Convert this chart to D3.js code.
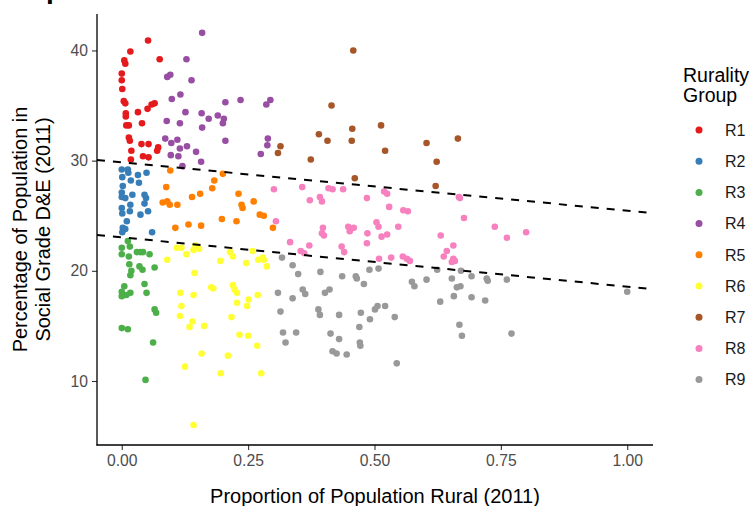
<!DOCTYPE html>
<html>
<head>
<meta charset="utf-8">
<script src="https://cdn.jsdelivr.net/npm/d3@7"></script>
<style>
  html, body { margin: 0; padding: 0; background: #ffffff; }
  svg { display: block; font-family: "Liberation Sans", Arial, sans-serif; }
</style>
</head>
<body>
<svg id="chart" width="752" height="506"></svg>
<script>
// ---- data (proportion rural, % social grade D&E) ----
const groups = ["R1","R2","R3","R4","R5","R6","R7","R8","R9"];
const colors = ["#E41A1C","#377EB8","#4DAF4A","#984EA3","#FF7F00","#FFFF33","#A65628","#F781BF","#999999"];

const r1 = [[0.052,40.9],[0.017,39.9],[0.005,39.1],[0.007,38.8],[0.075,39.2],[0.000,37.9],[0.000,37.3],[0.001,36.5],[0.004,35.4],[0.007,35.2],[0.032,34.4],[0.051,34.7],[0.059,35.1],[0.065,35.2],[0.008,34.3],[0.008,34.0],[0.009,33.2],[0.014,33.2],[0.040,33.4],[0.014,32.1],[0.016,31.8],[0.039,31.5],[0.053,31.5],[0.072,31.2],[0.070,30.9],[0.019,30.9],[0.042,30.4],[0.053,30.3],[0.018,30.1]];
const r2 = [[0.000,29.2],[0.012,29.2],[0.013,28.9],[0.049,28.9],[0.032,28.7],[0.001,28.5],[0.018,28.2],[0.034,28.0],[0.002,27.7],[0.000,27.1],[0.000,26.7],[0.021,26.9],[0.045,26.9],[0.048,26.6],[0.045,26.1],[0.017,26.0],[0.007,26.6],[0.000,25.7],[0.001,25.2],[0.016,25.4],[0.037,25.1],[0.052,25.4],[0.010,24.5],[0.002,23.9],[0.001,23.5],[0.007,23.8],[0.060,23.5]];
const r3 = [[0.012,22.7],[0.000,22.1],[0.016,22.2],[0.000,21.5],[0.014,21.3],[0.030,21.7],[0.037,21.7],[0.042,21.7],[0.055,21.5],[0.015,20.6],[0.035,20.4],[0.041,20.1],[0.065,20.3],[0.019,20.0],[0.017,19.6],[0.045,18.8],[0.049,18.0],[0.005,18.6],[0.000,18.1],[0.003,17.8],[0.009,17.8],[0.017,18.0],[0.000,17.7],[0.065,16.5],[0.068,16.2],[0.000,14.8],[0.012,14.7],[0.062,13.5],[0.047,10.1]];
const r4 = [[0.159,41.6],[0.128,39.2],[0.090,37.6],[0.096,37.8],[0.138,37.3],[0.099,35.6],[0.116,36.0],[0.205,35.3],[0.235,35.5],[0.294,35.5],[0.286,35.1],[0.126,34.4],[0.158,34.3],[0.172,33.8],[0.190,34.1],[0.202,33.8],[0.200,33.4],[0.089,33.6],[0.115,33.4],[0.159,33.0],[0.086,32.0],[0.098,31.6],[0.110,31.9],[0.205,31.8],[0.129,31.3],[0.115,31.1],[0.289,32.0],[0.288,31.4],[0.147,30.8],[0.097,30.5],[0.112,30.4],[0.275,30.6],[0.157,29.9],[0.120,29.5]];
const r5 = [[0.096,29.1],[0.200,28.8],[0.183,28.2],[0.179,27.5],[0.088,27.6],[0.155,27.0],[0.139,26.7],[0.231,27.0],[0.261,26.3],[0.237,26.0],[0.239,25.7],[0.081,26.2],[0.090,26.3],[0.095,26.0],[0.110,26.0],[0.273,25.1],[0.281,25.0],[0.198,24.7],[0.227,24.5],[0.132,24.2],[0.157,24.1],[0.106,23.9],[0.299,23.9]];
const r6 = [[0.109,22.1],[0.118,22.1],[0.146,22.3],[0.142,21.9],[0.153,22.0],[0.090,21.0],[0.128,21.5],[0.144,19.8],[0.195,20.9],[0.214,21.7],[0.220,21.3],[0.246,20.7],[0.259,21.8],[0.270,21.0],[0.279,21.2],[0.281,21.0],[0.287,20.4],[0.116,18.0],[0.142,17.8],[0.177,18.5],[0.181,18.4],[0.220,18.7],[0.223,18.3],[0.228,18.0],[0.269,17.8],[0.251,17.4],[0.248,16.8],[0.228,17.1],[0.118,16.8],[0.115,15.9],[0.140,15.4],[0.134,14.9],[0.163,15.0],[0.217,15.8],[0.233,14.2],[0.250,14.1],[0.268,13.2],[0.158,12.5],[0.210,12.3],[0.125,11.3],[0.196,10.7],[0.276,10.7],[0.142,6.0]];
const r7 = [[0.314,31.3],[0.309,30.7],[0.458,40.0],[0.415,35.0],[0.390,32.4],[0.407,31.8],[0.456,32.9],[0.455,31.8],[0.513,33.2],[0.521,30.9],[0.374,30.1],[0.461,28.4],[0.603,31.6],[0.665,32.0],[0.623,29.9],[0.621,27.7]];
const r8 = [[0.301,27.4],[0.305,24.5],[0.357,27.6],[0.372,26.4],[0.392,26.7],[0.396,26.3],[0.409,27.5],[0.417,27.4],[0.438,27.4],[0.485,26.6],[0.519,27.2],[0.525,27.0],[0.529,25.8],[0.557,25.5],[0.566,25.4],[0.667,26.7],[0.669,26.6],[0.677,24.8],[0.738,24.0],[0.762,23.0],[0.800,23.5],[0.398,23.9],[0.396,23.4],[0.400,23.2],[0.448,24.0],[0.451,23.6],[0.459,23.9],[0.486,23.4],[0.485,22.5],[0.504,24.4],[0.508,24.0],[0.514,23.1],[0.525,23.3],[0.547,24.0],[0.333,22.6],[0.354,21.8],[0.361,21.6],[0.371,22.3],[0.435,22.2],[0.440,21.7],[0.509,21.1],[0.533,21.2],[0.556,21.3],[0.564,21.1],[0.570,20.9],[0.631,23.2],[0.643,21.8],[0.656,22.3],[0.637,21.3],[0.656,21.1],[0.653,20.8],[0.659,20.9]];
const r9 = [[0.317,21.2],[0.309,18.0],[0.314,16.3],[0.319,14.4],[0.324,13.5],[0.338,20.5],[0.349,19.7],[0.338,17.5],[0.358,18.3],[0.363,17.9],[0.345,14.4],[0.393,19.9],[0.402,18.0],[0.411,18.3],[0.389,16.5],[0.392,16.0],[0.430,16.0],[0.413,14.3],[0.430,13.8],[0.417,12.7],[0.425,12.5],[0.445,12.4],[0.436,19.5],[0.463,19.5],[0.465,19.3],[0.479,18.8],[0.490,20.1],[0.508,20.2],[0.473,16.2],[0.491,15.6],[0.470,14.9],[0.471,13.5],[0.472,13.2],[0.501,16.5],[0.506,16.8],[0.521,16.8],[0.540,15.8],[0.544,11.6],[0.574,19.0],[0.579,18.6],[0.603,19.2],[0.624,20.1],[0.630,17.2],[0.653,19.3],[0.663,18.5],[0.670,18.6],[0.657,17.7],[0.671,20.0],[0.692,19.5],[0.668,15.1],[0.673,14.1],[0.692,17.6],[0.719,17.3],[0.722,19.3],[0.724,19.1],[0.762,19.2],[0.771,14.3],[1.000,18.1]];
const seriesValues = [r1, r2, r3, r4, r5, r6, r7, r8, r9];

// dashed reference lines: intercept and slope
const lineIntercepts = [29.85, 23.04];
const lineSlopes = [-4.39, -4.48];

const xTicks = [0, 0.25, 0.5, 0.75, 1.0];
const xTickLabels = ["0.00", "0.25", "0.50", "0.75", "1.00"];
const yTicks = [10, 20, 30, 40];
const yTickLabels = ["10", "20", "30", "40"];

const xTitle = "Proportion of Population Rural (2011)";
const yTitleLines = ["Percentage of Population in", "Social Grade D&E (2011)"];
const legendTitleLines = ["Rurality", "Group"];

// ---- drawing ----
const svg = d3.select("#chart");
const panel = { left: 97, right: 653, top: 14, bottom: 445 };
const xDomain = [-0.049, 1.051];
const yDomain = [4.19, 43.31];

const x = d3.scaleLinear().domain(xDomain).range([panel.left, panel.right]);
const y = d3.scaleLinear().domain(yDomain).range([panel.bottom, panel.top]);
const color = d3.scaleOrdinal().domain(groups).range(colors);

svg.append("rect").attr("width", 752).attr("height", 506).attr("fill", "#ffffff");

// cropped title fragment at top (cut off in the reference as well)
svg.append("text").attr("x", 46).attr("y", -2.5)
  .attr("font-size", 28).attr("font-weight", "bold").attr("fill", "#000").text("p");

svg.append("defs").append("clipPath").attr("id", "clip")
  .append("rect").attr("x", panel.left).attr("y", panel.top)
  .attr("width", panel.right - panel.left).attr("height", panel.bottom - panel.top);

// points
const points = [];
groups.forEach((g, i) => seriesValues[i].forEach(d => points.push({ g: g, x: d[0], y: d[1] })));
svg.append("g").selectAll("circle").data(points).join("circle")
  .attr("cx", d => x(d.x)).attr("cy", d => y(d.y)).attr("r", 3.3)
  .attr("fill", d => color(d.g));

// dashed lines
const lineGen = d3.line().x(d => x(d[0])).y(d => y(d[1]));
svg.append("g").attr("clip-path", "url(#clip)").selectAll("path")
  .data(lineIntercepts.map((b, i) => xDomain.map(xv => [xv, b + lineSlopes[i] * xv])))
  .join("path").attr("d", lineGen)
  .attr("fill", "none").attr("stroke", "#000").attr("stroke-width", 2)
  .attr("stroke-dasharray", "8,8");

// axes
const xAxis = d3.axisBottom(x).tickValues(xTicks).tickFormat((d, i) => xTickLabels[i]).tickSize(5).tickPadding(4);
const yAxis = d3.axisLeft(y).tickValues(yTicks).tickFormat((d, i) => yTickLabels[i]).tickSize(5).tickPadding(4);

const gx = svg.append("g").attr("transform", `translate(0,${panel.bottom})`).call(xAxis);
const gy = svg.append("g").attr("transform", `translate(${panel.left},0)`).call(yAxis);
[gx, gy].forEach(g => {
  g.select(".domain").remove();
  g.selectAll(".tick line").attr("stroke", "#333333").attr("stroke-width", 1.1);
  g.selectAll(".tick text").attr("fill", "#4D4D4D").attr("font-size", 15.7)
    .attr("font-family", "'Liberation Sans', Arial, sans-serif");
});
gx.selectAll(".tick text").attr("dy", "0.71em").attr("y", 10);
// axis lines
svg.append("line").attr("x1", panel.left).attr("x2", panel.left).attr("y1", panel.top).attr("y2", panel.bottom + 0.5)
  .attr("stroke", "#000").attr("stroke-width", 1.3);
svg.append("line").attr("x1", panel.left - 0.5).attr("x2", panel.right).attr("y1", panel.bottom).attr("y2", panel.bottom)
  .attr("stroke", "#000").attr("stroke-width", 1.3);

// axis titles
svg.append("text").attr("x", (panel.left + panel.right) / 2).attr("y", 503)
  .attr("text-anchor", "middle").attr("font-size", 20).attr("fill", "#000").text(xTitle);

const yt = svg.append("text").attr("transform", `translate(0,${(panel.top + panel.bottom) / 2}) rotate(-90)`)
  .attr("text-anchor", "middle").attr("font-size", 20).attr("fill", "#000");
yTitleLines.forEach((t, i) => yt.append("tspan").attr("x", 0).attr("y", 27 + i * 23).text(t));

// legend
const lt = svg.append("text").attr("font-size", 19.5).attr("fill", "#000");
legendTitleLines.forEach((t, i) => lt.append("tspan").attr("x", 683).attr("y", 81.5 + i * 20).text(t));

const leg = svg.append("g").selectAll("g").data(groups).join("g")
  .attr("transform", (d, i) => `translate(0,${130 + i * 31.2})`);
leg.append("circle").attr("cx", 699).attr("cy", 0).attr("r", 3.5).attr("fill", d => color(d));
leg.append("text").attr("x", 725).attr("y", 0).attr("dy", "0.36em")
  .attr("font-size", 16).attr("fill", "#1a1a1a").text(d => d);
</script>
</body>
</html>
